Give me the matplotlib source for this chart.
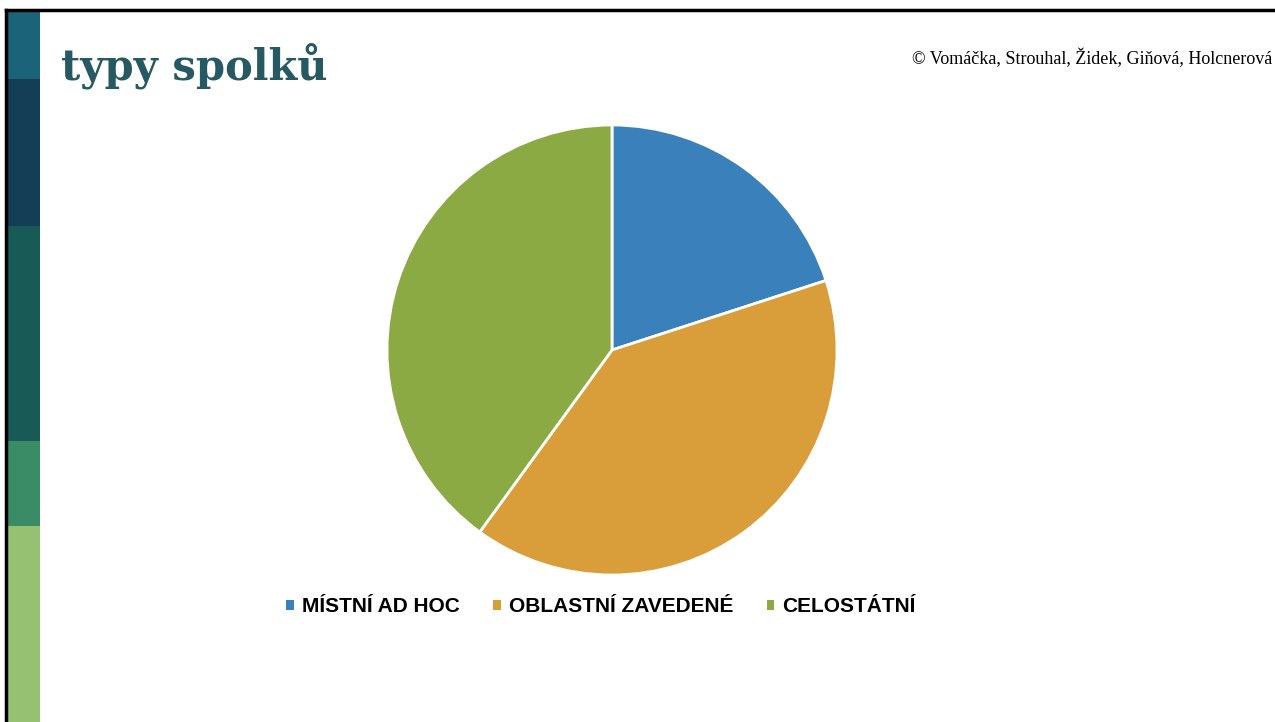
import matplotlib.pyplot as plt
from matplotlib.patches import Rectangle, Patch
from matplotlib.lines import Line2D

W, H = 1275, 722

categories = ["MÍSTNÍ AD HOC", "OBLASTNÍ ZAVEDENÉ", "CELOSTÁTNÍ"]
shares = [20, 40, 40]
colors = ["#3a80ba", "#d99e39", "#8caa44"]

# side band of the slide: (top, bottom, colour) in pixels
band_tops = [11, 79, 226, 441, 526]
band_bottoms = [79, 226, 441, 526, 722]
band_colors = ["#1b6379", "#143e55", "#185a56", "#3a8c66", "#97c172"]

fig = plt.figure(figsize=(W / 100, H / 100), dpi=100)
fig.patch.set_facecolor("white")


def fx(x):
    return x / W


def fy(y):
    return 1 - y / H


for top, bottom, c in zip(band_tops, band_bottoms, band_colors):
    fig.patches.append(Rectangle((fx(8), fy(bottom)), fx(40) - fx(8), fy(top) - fy(bottom),
                                 transform=fig.transFigure, facecolor=c, edgecolor="none"))

# slide frame
fig.lines.append(Line2D([fx(6), 1], [fy(10), fy(10)], transform=fig.transFigure,
                        color="black", linewidth=2.5))
fig.lines.append(Line2D([fx(6), fx(6)], [fy(10), 0], transform=fig.transFigure,
                        color="black", linewidth=2.5))

fig.text(fx(61), fy(66), "typy spolků", fontsize=30, fontweight="bold",
         family="DejaVu Serif", color="#265961", va="center", ha="left")
fig.text(fx(1272), fy(58), "© Vomáčka, Strouhal, Židek, Giňová, Holcnerová", fontsize=13,
         family="Liberation Serif", color="black", va="center", ha="right")

# pie
cx, cy, r = 612, 350, 225
ax = fig.add_axes([fx(cx - r), fy(cy + r), 2 * r / W, 2 * r / H])
ax.pie(shares, colors=colors, startangle=90, counterclock=False, radius=1,
       wedgeprops=dict(edgecolor="white", linewidth=2))
ax.set_xlim(-1, 1)
ax.set_ylim(-1, 1)
ax.axis("off")

handles = [Patch(facecolor=c, edgecolor="none") for c in colors]
fig.legend(handles, categories, loc="center", bbox_to_anchor=(fx(601), fy(607)), ncol=3,
           frameon=False, handlelength=0.35, handleheight=0.35, handletextpad=0.4,
           columnspacing=1.6, prop=dict(family="Liberation Sans", weight="bold", size=15))

fig.savefig("out.png", dpi=100)
